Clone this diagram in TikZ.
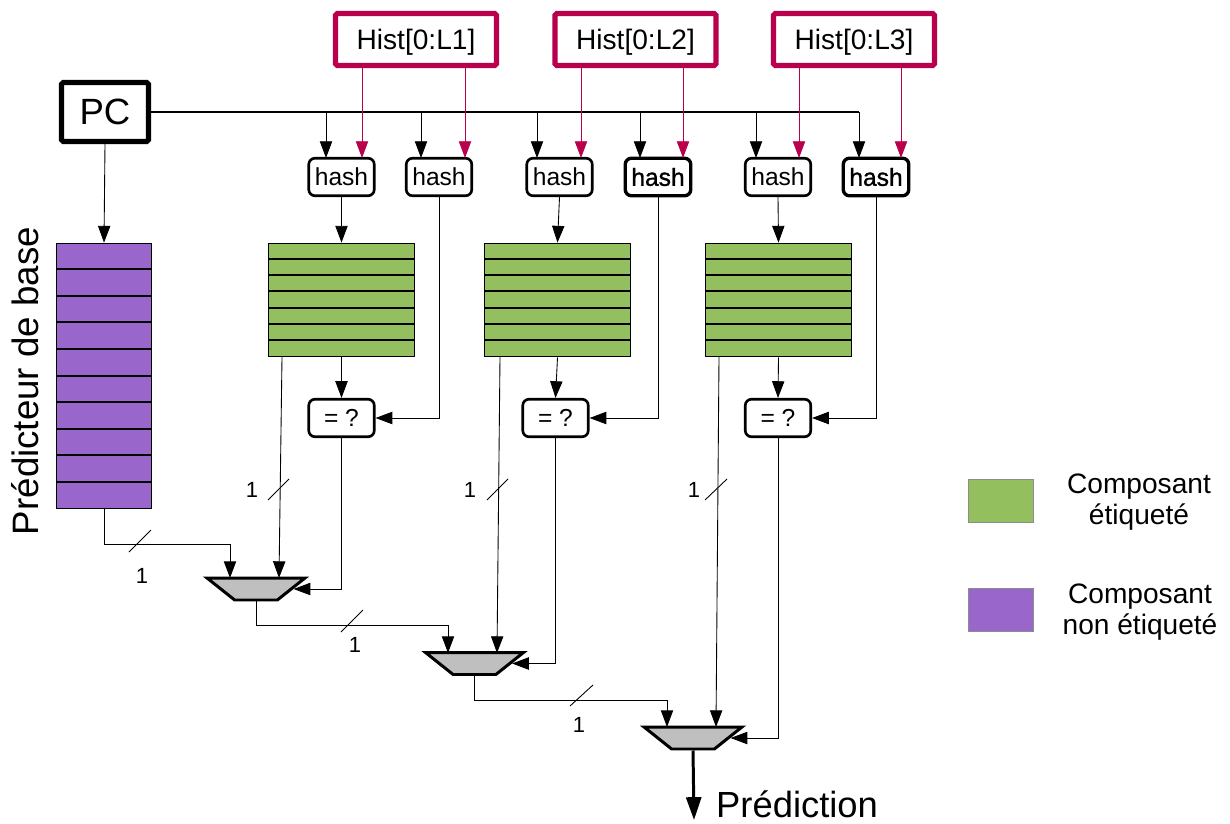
\documentclass[tikz,border=0pt]{standalone}
\usepackage{fontspec}
\setmainfont{Liberation Sans}
\newfontfamily\heavyfont[FakeBold=1.2]{Liberation Sans}
\usetikzlibrary{shapes.geometric,arrows.meta}
\definecolor{histred}{RGB}{184,0,76}
\definecolor{taggreen}{RGB}{147,191,94}
\definecolor{basepurple}{RGB}{153,102,204}
\definecolor{muxgray}{RGB}{191,191,191}

\begin{document}
\begin{tikzpicture}[
x=0.02cm, y=-0.02cm,
>={Triangle[length=9.5pt,width=7pt]},
pcnode/.style={rectangle, draw=black, line width=2.9pt, rounded corners=1pt, minimum width=1.74cm, minimum height=1.18cm, inner sep=0pt, font=\fontsize{20.8}{24}\selectfont},
histnode/.style={rectangle, draw=histred, line width=3pt, rounded corners=1pt, minimum width=3.22cm, minimum height=1.04cm, inner sep=0pt, text depth=0pt, font=\fontsize{16}{19}\selectfont},
hashnode/.style={rectangle, draw=black, line width=1.5pt, rounded corners=3.5pt, minimum width=1.31cm, minimum height=0.75cm, inner sep=0pt, font=\fontsize{14}{17}\selectfont},
heavyhashnode/.style={hashnode, line width=1.9pt, font=\fontsize{14}{17}\selectfont\heavyfont},
tagtable/.style={rectangle, draw=black, line width=0.8pt, fill=taggreen, minimum width=2.93cm, minimum height=2.27cm, inner sep=0pt},
basetable/.style={rectangle, draw=black, line width=0.8pt, fill=basepurple, minimum width=1.91cm, minimum height=5.31cm, inner sep=0pt},
muxnode/.style={trapezium, trapezium stretches=true, shape border rotate=180, trapezium angle=52, draw=black, line width=1.7pt, fill=muxgray, minimum width=1.96cm, minimum height=0.44cm, inner sep=0pt},
legendbox/.style={rectangle, draw=black!45, line width=0.6pt, minimum width=1.3cm, minimum height=0.86cm, inner sep=0pt},
textnode/.style={font=\fontsize{16}{17.6}\selectfont, align=center},
widthone/.style={font=\fontsize{12.5}{15}\selectfont},
wire/.style={->, line width=0.5pt},
histwire/.style={->, line width=0.5pt, draw=histred, color=histred}
]
\useasboundingbox (0,0) rectangle (1230,824);

%Nodes
\node[pcnode] at (105,112) (PC) {PC};
\node[histnode] at (416,39.5) (hist1) {Hist[0:L1]};
\node[histnode] at (635.5,39.5) (hist2) {Hist[0:L2]};
\node[histnode] at (854,39.5) (hist3) {Hist[0:L3]};

\node[hashnode] at (341.5,177) (hash1) {hash};
\node[hashnode] at (439,177) (hash2) {hash};
\node[hashnode] at (559.5,177) (hash3) {hash};
\node[heavyhashnode] at (658,177) (hash4) {hash};
\node[hashnode] at (778,177) (hash5) {hash};
\node[heavyhashnode] at (876,177) (hash6) {hash};

\node[basetable] at (104,376) (base) {};
\node[tagtable] at (341.5,300) (tag1) {};
\node[tagtable] at (557.5,300) (tag2) {};
\node[tagtable] at (778.5,300) (tag3) {};

\node[hashnode] at (341.5,418) (cmp1) {= ?};
\node[hashnode] at (555.5,418) (cmp2) {= ?};
\node[hashnode] at (778,418) (cmp3) {= ?};

\node[muxnode] at (256,589) (mux1) {\phantom{M}};
\node[muxnode] at (474.5,663.5) (mux2) {\phantom{M}};
\node[muxnode] at (693,738) (mux3) {\phantom{M}};

\node[rotate=90, font=\fontsize{20.9}{24}\selectfont] at (25,381) (baselabel) {Prédicteur de base};
\node[font=\fontsize{20.7}{24}\selectfont, anchor=west] at (710,804) (predlabel) {Prédiction};

\node[widthone] at (252,490) (width1) {1};
\node[widthone] at (470,490) (width2) {1};
\node[widthone] at (694,490) (width3) {1};
\node[widthone] at (142,576) (width4) {1};
\node[widthone] at (355,645) (width5) {1};
\node[widthone] at (579,725) (width6) {1};

\node[legendbox, fill=taggreen] at (1001,501) (legendtag) {};
\node[legendbox, fill=basepurple] at (1001,610) (legendbase) {};
\node[textnode] at (1139,502) (legendtagtext) {Composant\\étiqueté};
\node[textnode] at (1140,612) (legendbasetext) {Composant\\non étiqueté};

%Coordinates
\coordinate (busend) at (859,112);
\coordinate (pc1) at (326,158);
\coordinate (pc2) at (421,158);
\coordinate (pc3) at (537,158);
\coordinate (pc4) at (640,158);
\coordinate (pc5) at (756,158);
\coordinate (pc6) at (859,158);
\coordinate (red1) at (362,158);
\coordinate (red2) at (465,158);
\coordinate (red3) at (581,158);
\coordinate (red4) at (683,158);
\coordinate (red5) at (799,158);
\coordinate (red6) at (901,158);
\coordinate (hit1) at (282,357);
\coordinate (hit2) at (500,357);
\coordinate (hit3) at (719,357);
\coordinate (sel1) at (279,578);
\coordinate (sel2) at (497,653);
\coordinate (sel3) at (716,727);
\coordinate (alt1) at (230,578);
\coordinate (alt2) at (448,653);
\coordinate (alt3) at (667,727);

%Table rows
\draw[line width=0.65pt]
 (56,269) -- (152,269) (56,296) -- (152,296) (56,322) -- (152,322)
 (56,349) -- (152,349) (56,376) -- (152,376) (56,402) -- (152,402)
 (56,429) -- (152,429) (56,455) -- (152,455) (56,482) -- (152,482);
\draw[line width=0.65pt]
 (268,259) -- (415,259) (268,275) -- (415,275) (268,291) -- (415,291)
 (268,308) -- (415,308) (268,324) -- (415,324) (268,340) -- (415,340);
\draw[line width=0.65pt]
 (484,259) -- (631,259) (484,275) -- (631,275) (484,291) -- (631,291)
 (484,308) -- (631,308) (484,324) -- (631,324) (484,340) -- (631,340);
\draw[line width=0.65pt]
 (705,259) -- (852,259) (705,275) -- (852,275) (705,291) -- (852,291)
 (705,308) -- (852,308) (705,324) -- (852,324) (705,340) -- (852,340);

%Lines
\draw[line width=1.1pt] (PC.east) -- (busend);
\draw[wire] (PC.south) -- (base.north);
\draw[wire] (pc1 |- PC.east) -- (pc1);
\draw[wire] (pc2 |- PC.east) -- (pc2);
\draw[wire] (pc3 |- PC.east) -- (pc3);
\draw[wire] (pc4 |- PC.east) -- (pc4);
\draw[wire] (pc5 |- PC.east) -- (pc5);
\draw[wire] (pc6 |- PC.east) -- (pc6);

\draw[histwire] (red1 |- hist1.south) -- (red1);
\draw[histwire] (red2 |- hist1.south) -- (red2);
\draw[histwire] (red3 |- hist2.south) -- (red3);
\draw[histwire] (red4 |- hist2.south) -- (red4);
\draw[histwire] (red5 |- hist3.south) -- (red5);
\draw[histwire] (red6 |- hist3.south) -- (red6);

\draw[wire] (hash1.south) -- (tag1.north);
\draw[wire] (hash3.south) -- (tag2.north);
\draw[wire] (hash5.south) -- (tag3.north);
\draw[wire] (tag1.south) -- (cmp1.north);
\draw[wire] (tag2.south) -- (cmp2.north);
\draw[wire] (tag3.south) -- (cmp3.north);
\draw[wire] (hash2.south) |- (cmp1.east);
\draw[wire] (hash4.south) |- (cmp2.east);
\draw[wire] (hash6.south) |- (cmp3.east);

\draw[wire] (hit1) -- (sel1);
\draw[wire] (hit2) -- (sel2);
\draw[wire] (hit3) -- (sel3);
\draw[wire] (cmp1.south) |- (mux1.east);
\draw[wire] (cmp2.south) |- (mux2.east);
\draw[wire] (cmp3.south) |- (mux3.east);

\draw[wire] (base.south) -- ++(0,35) -| (alt1);
\draw[wire] (mux1.south) -- ++(0,24) -| (alt2);
\draw[wire] (mux2.south) -- ++(0,24) -| (alt3);
\draw[->, line width=1.7pt, >={Triangle[length=13pt,width=8.5pt]}] (mux3.south) -- (694,820);

%Width marks
\draw[line width=0.5pt] (268,500) -- (289,479);
\draw[line width=0.5pt] (487,500) -- (508,479);
\draw[line width=0.5pt] (705,500) -- (727,479);
\draw[line width=0.5pt] (129,552) -- (151,530);
\draw[line width=0.5pt] (341,632) -- (363,610);
\draw[line width=0.5pt] (570,706) -- (593,685);

\end{tikzpicture}
\end{document}
